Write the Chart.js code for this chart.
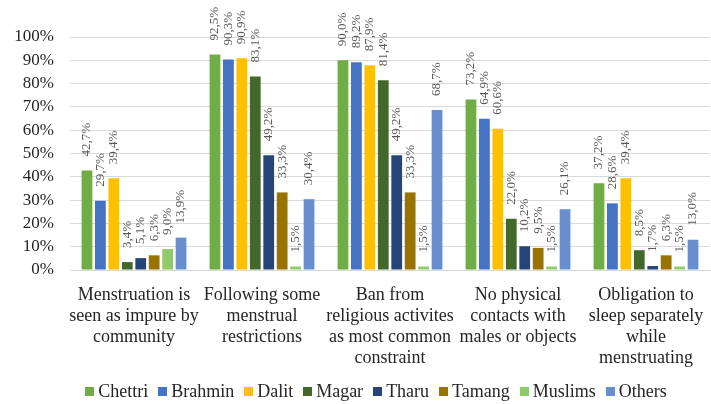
<!DOCTYPE html>
<html>
<head>
<meta charset="utf-8">
<script src="https://cdn.jsdelivr.net/npm/chart.js@4"></script>
<style>
html,body{margin:0;padding:0;background:#fff;}
#wrap{width:711px;height:404px;position:relative;}
#legend{position:absolute;left:0;top:380px;width:752px;display:flex;justify-content:center;
  font-family:'Liberation Serif','Times New Roman',serif;font-size:18px;color:#262626;line-height:22px;white-space:nowrap;}
#legend .it{display:flex;align-items:center;margin-right:10px;}
#legend .it:last-child{margin-right:0;}
#legend .bx{width:9px;height:9px;margin-right:4px;display:inline-block;}
</style>
</head>
<body>
<div id="wrap"><canvas id="c" width="711" height="404"></canvas><div id="legend"></div></div>
<script>
const categories = [
  ["Menstruation is", "seen as impure by", "community"],
  ["Following some", "menstrual", "restrictions"],
  ["Ban from", "religious activites", "as most common", "constraint"],
  ["No physical", "contacts with", "males or objects"],
  ["Obligation to", "sleep separately", "while", "menstruating"]
];
const seriesNames = ["Chettri", "Brahmin", "Dalit", "Magar", "Tharu", "Tamang", "Muslims", "Others"];
const chettri = [42.7, 92.5, 90.0, 73.2, 37.2];
const brahmin = [29.7, 90.3, 89.2, 64.9, 28.6];
const dalit   = [39.4, 90.9, 87.9, 60.6, 39.4];
const magar   = [3.4, 83.1, 81.4, 22.0, 8.5];
const tharu   = [5.1, 49.2, 49.2, 10.2, 1.7];
const tamang  = [6.3, 33.3, 33.3, 9.5, 6.3];
const muslims = [9.0, 1.5, 1.5, 1.5, 1.5];
const others  = [13.9, 30.4, 68.7, 26.1, 13.0];
const yTicks = [0, 10, 20, 30, 40, 50, 60, 70, 80, 90, 100];

const seriesValues = [chettri, brahmin, dalit, magar, tharu, tamang, muslims, others];
const colors = ["#70AD47", "#4472C4", "#FFC000", "#43682B", "#264478", "#997300", "#8FCB6A", "#698ED0"];
const FONT = "'Liberation Serif', 'Times New Roman', serif";

const labelPlugin = {
  id: 'barLabels',
  afterDatasetsDraw(chart) {
    const ctx = chart.ctx;
    ctx.save();
    ctx.font = "13px " + FONT;
    ctx.fillStyle = "#595959";
    ctx.textAlign = "left";
    ctx.textBaseline = "middle";
    chart.data.datasets.forEach((ds, di) => {
      const meta = chart.getDatasetMeta(di);
      meta.data.forEach((el, i) => {
        const txt = ds.data[i].toFixed(1).replace('.', ',') + '%';
        ctx.save();
        ctx.translate(el.x, el.y - 14);
        ctx.rotate(-Math.PI / 2);
        ctx.fillText(txt, 0, 0);
        ctx.restore();
      });
    });
    ctx.restore();
  }
};

const chart = new Chart(document.getElementById('c'), {
  type: 'bar',
  data: {
    labels: categories,
    datasets: seriesNames.map((n, i) => ({
      label: n,
      data: seriesValues[i],
      backgroundColor: colors[i],
      borderWidth: 0,
      categoryPercentage: 0.84,
      barPercentage: 0.8
    }))
  },
  options: {
    responsive: false,
    animation: false,
    layout: { padding: { left: 8, right: 1, top: 37, bottom: 30 } },
    plugins: {
      legend: { display: false },
      tooltip: { enabled: false }
    },
    scales: {
      x: {
        grid: { display: false },
        border: { color: '#d9d9d9' },
        afterFit(scale) { scale.height = 104; },
        ticks: {
          font: { family: FONT, size: 18, lineHeight: 1.17 },
          color: '#262626',
          padding: 7,
          maxRotation: 0,
          autoSkip: false
        }
      },
      y: {
        min: 0,
        max: 100,
        afterBuildTicks(scale) { scale.ticks = yTicks.map(v => ({ value: v })); },
        afterFit(scale) { scale.width = 62; },
        grid: { color: '#d9d9d9', drawTicks: false },
        border: { display: false },
        ticks: {
          font: { family: FONT, size: 17 },
          color: '#262626',
          padding: 16,
          autoSkip: false,
          callback: v => v + '%'
        }
      }
    }
  },
  plugins: [labelPlugin]
});

const legendEl = document.getElementById('legend');
chart.data.datasets.forEach(ds => {
  const it = document.createElement('span');
  it.className = 'it';
  const bx = document.createElement('span');
  bx.className = 'bx';
  bx.style.background = ds.backgroundColor;
  it.appendChild(bx);
  it.appendChild(document.createTextNode(ds.label));
  legendEl.appendChild(it);
});
</script>
</body>
</html>
